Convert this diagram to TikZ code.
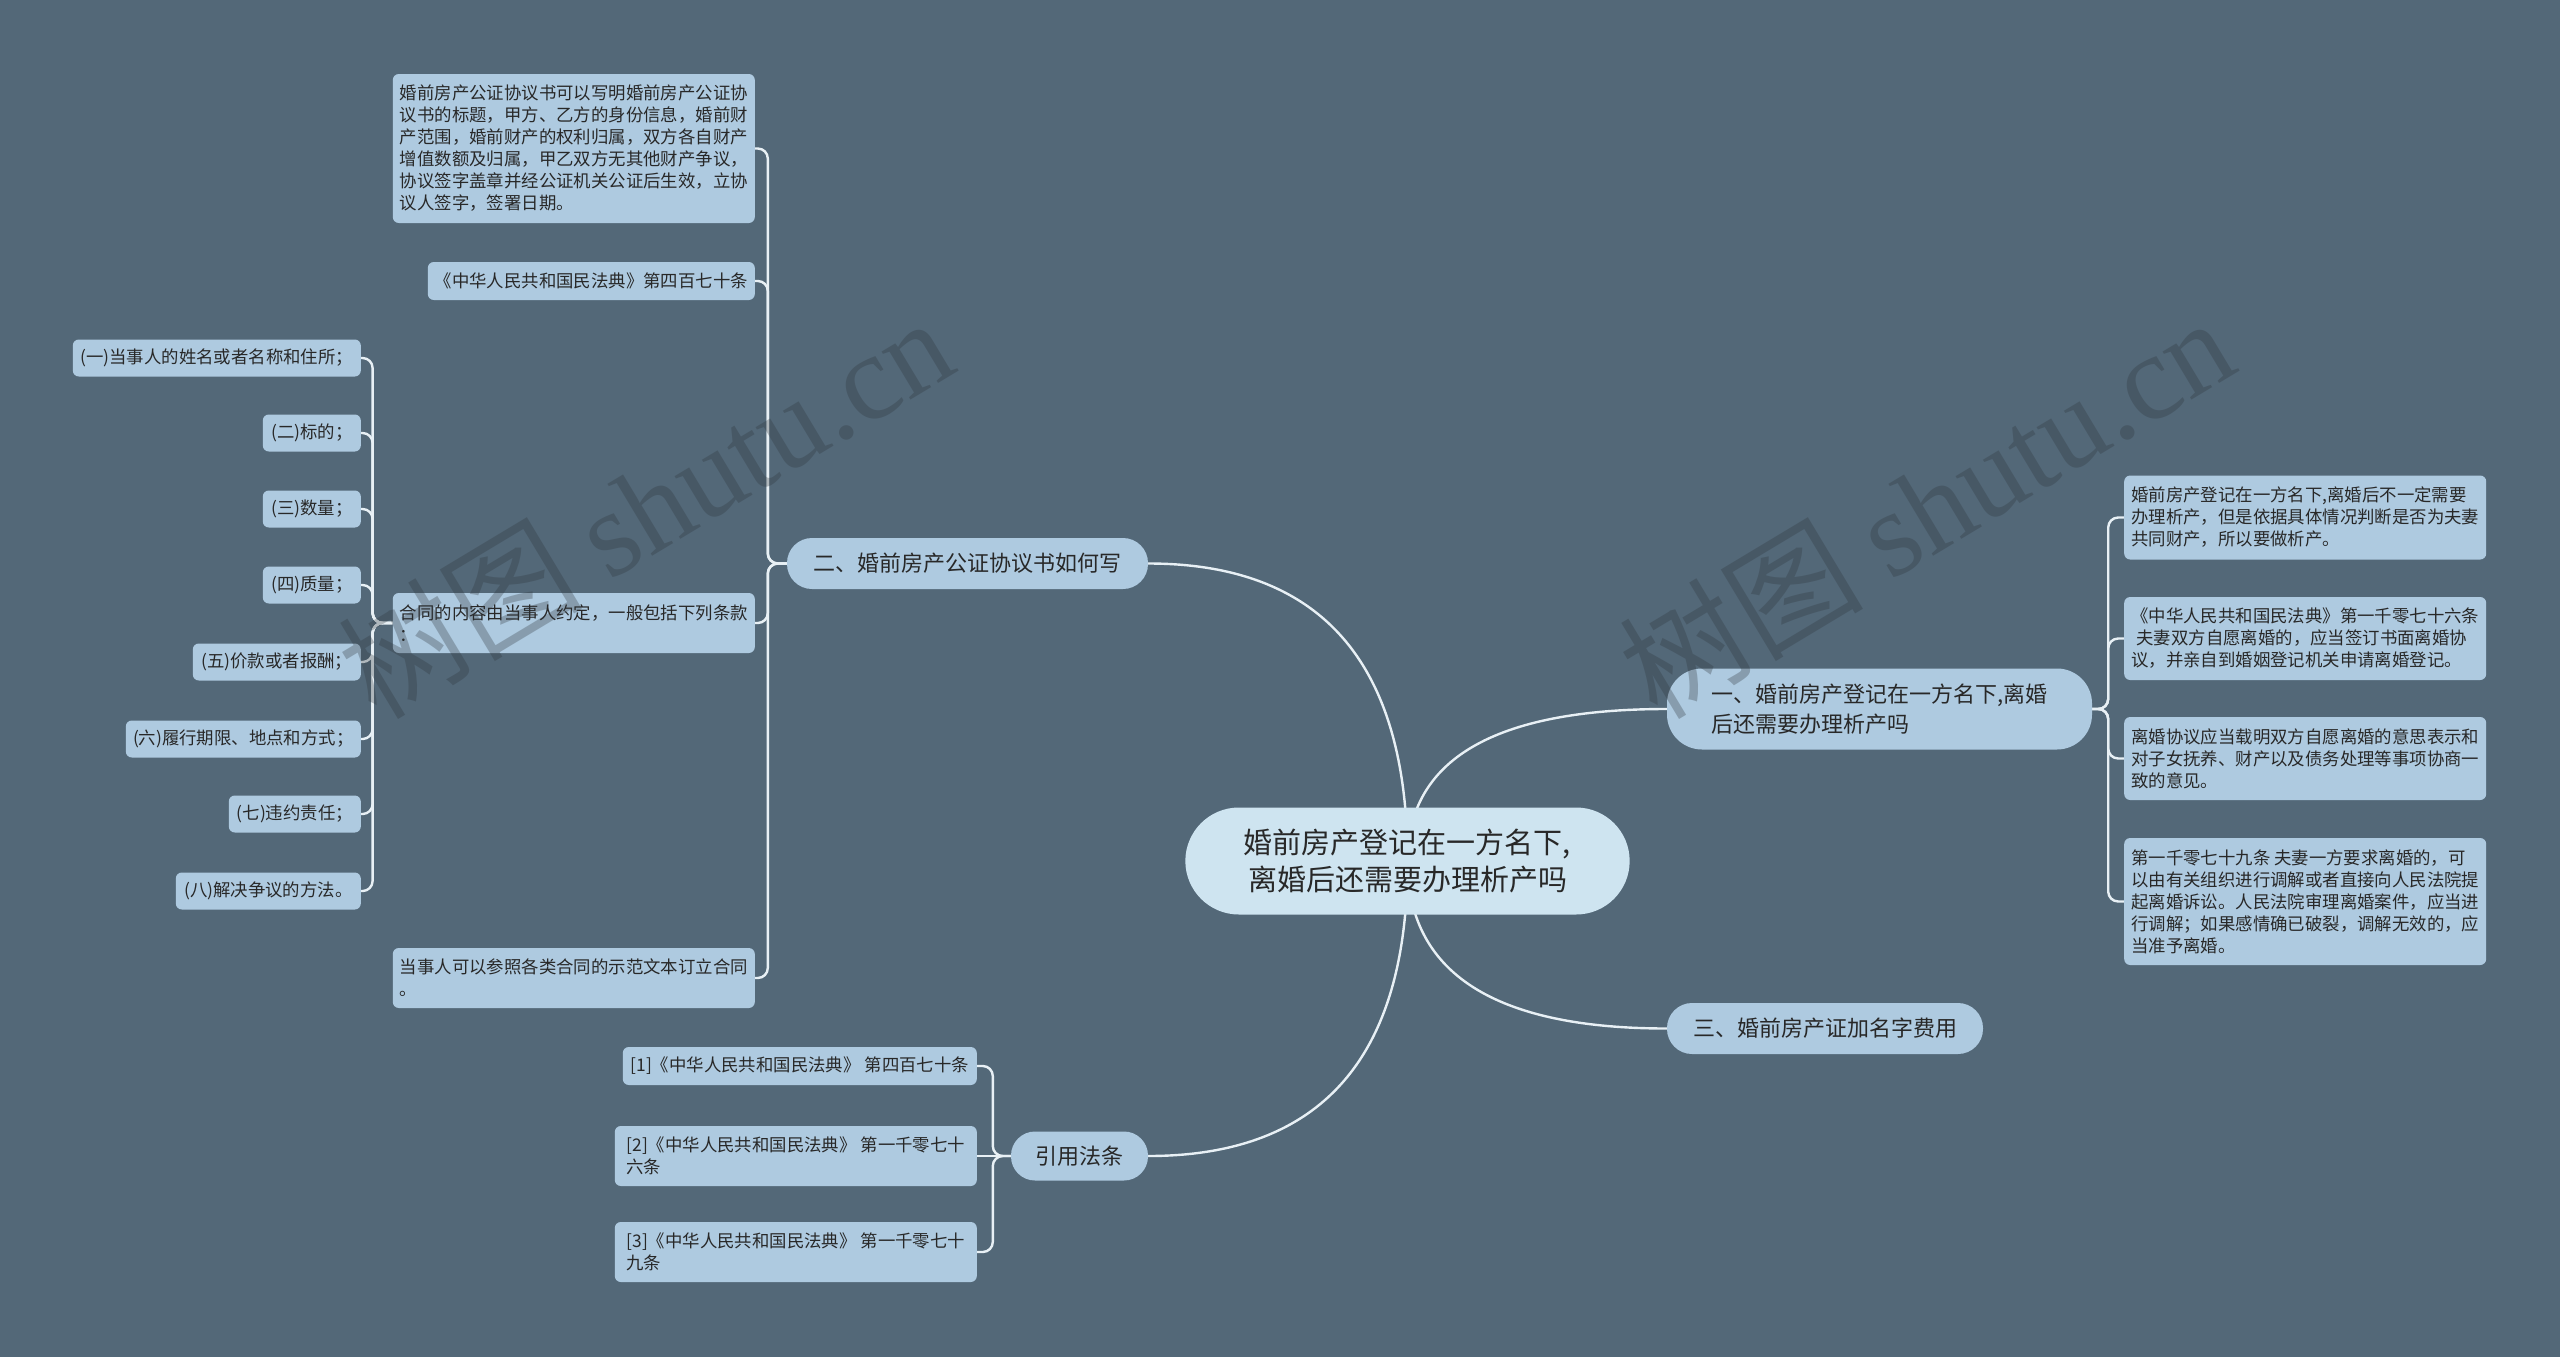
\documentclass[tikz,border=0pt]{standalone}
\usepackage{fontspec}
\setmainfont{Noto Sans CJK SC}
\newfontfamily\wmserif{Liberation Serif}
\usetikzlibrary{shapes.misc,calc}
\definecolor{bgc}{RGB}{83,104,120}
\definecolor{boxc}{RGB}{174,202,224}
\definecolor{cenc}{RGB}{206,228,240}
\definecolor{linec}{RGB}{232,240,245}
\definecolor{txtc}{RGB}{40,40,40}
\definecolor{wmc}{RGB}{45,52,58}
\pgfdeclarelayer{bgl}
\pgfdeclarelayer{edges}
\pgfdeclarelayer{wm}
\pgfsetlayers{bgl,edges,main,wm}
\begin{document}
\begin{tikzpicture}[x=1pt,y=-1pt,
  conn/.style={draw=linec,line width=2.4pt},
  elbow/.style={conn,rounded corners=10pt},
  box/.style={fill=boxc,rounded corners=6pt,text=txtc,inner xsep=6pt,inner ysep=3pt,font=\fontsize{17.4}{22}\selectfont,align=left},
  lbox/.style={box,anchor=east},
  rbox/.style={box,anchor=west,minimum width=362pt},
  pill/.style={fill=boxc,rounded corners=25pt,text=txtc,inner sep=4pt,font=\fontsize{22}{30}\selectfont,align=left},
  cen/.style={rounded rectangle,fill=cenc,text=txtc,minimum width=451pt,minimum height=107pt,font=\fontsize{29}{37}\selectfont,align=center},
  wmark/.style={text=wmc,opacity=0.3,rotate=31,font=\fontsize{122}{122}\selectfont}
]
\begin{pgfonlayer}{bgl}
\fill[bgc] (0,0) rectangle (2560,1357);
\end{pgfonlayer}
\useasboundingbox (0,0) rectangle (2560,1357);

% central and main branches
\node[cen] (c) at (1407.5,861) {婚前房产登记在一方名下,\\离婚后还需要办理析产吗};
\node[pill,rounded corners=35pt,minimum width=425pt,minimum height=81pt] (n1) at (1879.5,709) {一、婚前房产登记在一方名下,离婚\\后还需要办理析产吗};
\node[pill,minimum width=361pt,minimum height=51pt] (n2) at (967.5,563.5) {二、婚前房产公证协议书如何写};
\node[pill,minimum width=316pt,minimum height=51pt] (n3) at (1825,1028.5) {三、婚前房产证加名字费用};
\node[pill,rounded corners=24pt,minimum width=137pt,minimum height=49pt] (n4) at (1079.5,1156) {引用法条};

% children of n2
\node[lbox,minimum width=362pt,minimum height=149pt] (a1) at (755,148.5) {婚前房产公证协议书可以写明婚前房产公证协\\议书的标题，甲方、乙方的身份信息，婚前财\\产范围，婚前财产的权利归属，双方各自财产\\增值数额及归属，甲乙双方无其他财产争议，\\协议签字盖章并经公证机关公证后生效，立协\\议人签字，签署日期。};
\node[lbox,minimum width=327pt,minimum height=38pt] (a2) at (755,281) {《中华人民共和国民法典》第四百七十条};
\node[lbox,minimum width=362pt,minimum height=60pt] (a3) at (755,623) {合同的内容由当事人约定，一般包括下列条款\\：};
\node[lbox,minimum width=362pt,minimum height=60pt] (a4) at (755,978) {当事人可以参照各类合同的示范文本订立合同\\。};

% children of a3
\node[lbox,minimum width=288pt,minimum height=37pt] (c1) at (361,358) {(一)当事人的姓名或者名称和住所；};
\node[lbox,minimum width=98pt,minimum height=37pt] (c2) at (361,433) {(二)标的；};
\node[lbox,minimum width=98pt,minimum height=37pt] (c3) at (361,509) {(三)数量；};
\node[lbox,minimum width=98pt,minimum height=37pt] (c4) at (361,585) {(四)质量；};
\node[lbox,minimum width=168pt,minimum height=37pt] (c5) at (361,662) {(五)价款或者报酬；};
\node[lbox,minimum width=235pt,minimum height=37pt] (c6) at (361,739) {(六)履行期限、地点和方式；};
\node[lbox,minimum width=132pt,minimum height=37pt] (c7) at (361,814) {(七)违约责任；};
\node[lbox,minimum width=185pt,minimum height=37pt] (c8) at (361,891) {(八)解决争议的方法。};

% children of n4
\node[lbox,minimum width=354pt,minimum height=38pt] (l1) at (977,1066) {[1]《中华人民共和国民法典》 第四百七十条};
\node[lbox,minimum width=362pt,minimum height=60pt] (l2) at (977,1156) {[2]《中华人民共和国民法典》 第一千零七十\\六条};
\node[lbox,minimum width=362pt,minimum height=60pt] (l3) at (977,1252) {[3]《中华人民共和国民法典》 第一千零七十\\九条};

% children of n1
\node[rbox,minimum height=84pt] (r1) at (2124,517.5) {婚前房产登记在一方名下,离婚后不一定需要\\办理析产，但是依据具体情况判断是否为夫妻\\共同财产，所以要做析产。};
\node[rbox,minimum height=83pt] (r2) at (2124,638.5) {《中华人民共和国民法典》第一千零七十六条\\\hspace*{0.3em}夫妻双方自愿离婚的，应当签订书面离婚协\\议，并亲自到婚姻登记机关申请离婚登记。};
\node[rbox,minimum height=83pt] (r3) at (2124,758.5) {离婚协议应当载明双方自愿离婚的意思表示和\\对子女抚养、财产以及债务处理等事项协商一\\致的意见。};
\node[rbox,minimum height=127pt] (r4) at (2124,901.5) {第一千零七十九条 夫妻一方要求离婚的，可\\以由有关组织进行调解或者直接向人民法院提\\起离婚诉讼。人民法院审理离婚案件，应当进\\行调解；如果感情确已破裂，调解无效的，应\\当准予离婚。};

\begin{pgfonlayer}{edges}
\foreach \t/\a in {n2/east,n1/west,n3/west,n4/east}{
  \draw[conn] (c.center) .. controls ($(c.center)!0.667!(c.center|-\t.\a)$) and ($(\t.\a)!0.667!(c.center|-\t.\a)$) .. (\t.\a);
}
\foreach \t in {a1,a2,a3,a4}{\draw[elbow] (n2.west) -- ++(-19,0) |- (\t.east);}
\foreach \t in {c1,c2,c3,c4,c5,c6,c7,c8}{\draw[elbow] (a3.west) -- ++(-20,0) |- (\t.east);}
\foreach \t in {l1,l3}{\draw[elbow] (n4.west) -- ++(-18,0) |- (\t.east);}
\draw[conn] (n4.west) -- (l2.east);
\foreach \t in {r1,r2,r3,r4}{\draw[elbow] (n1.east) -- ++(16,0) |- (\t.west);}
\end{pgfonlayer}

\begin{pgfonlayer}{wm}
\node[wmark] (w1) at (645,506) {树图 {\wmserif shutu.cn}};
\node[wmark] (w2) at (1926,506) {树图 {\wmserif shutu.cn}};
\end{pgfonlayer}
\end{tikzpicture}
\end{document}
